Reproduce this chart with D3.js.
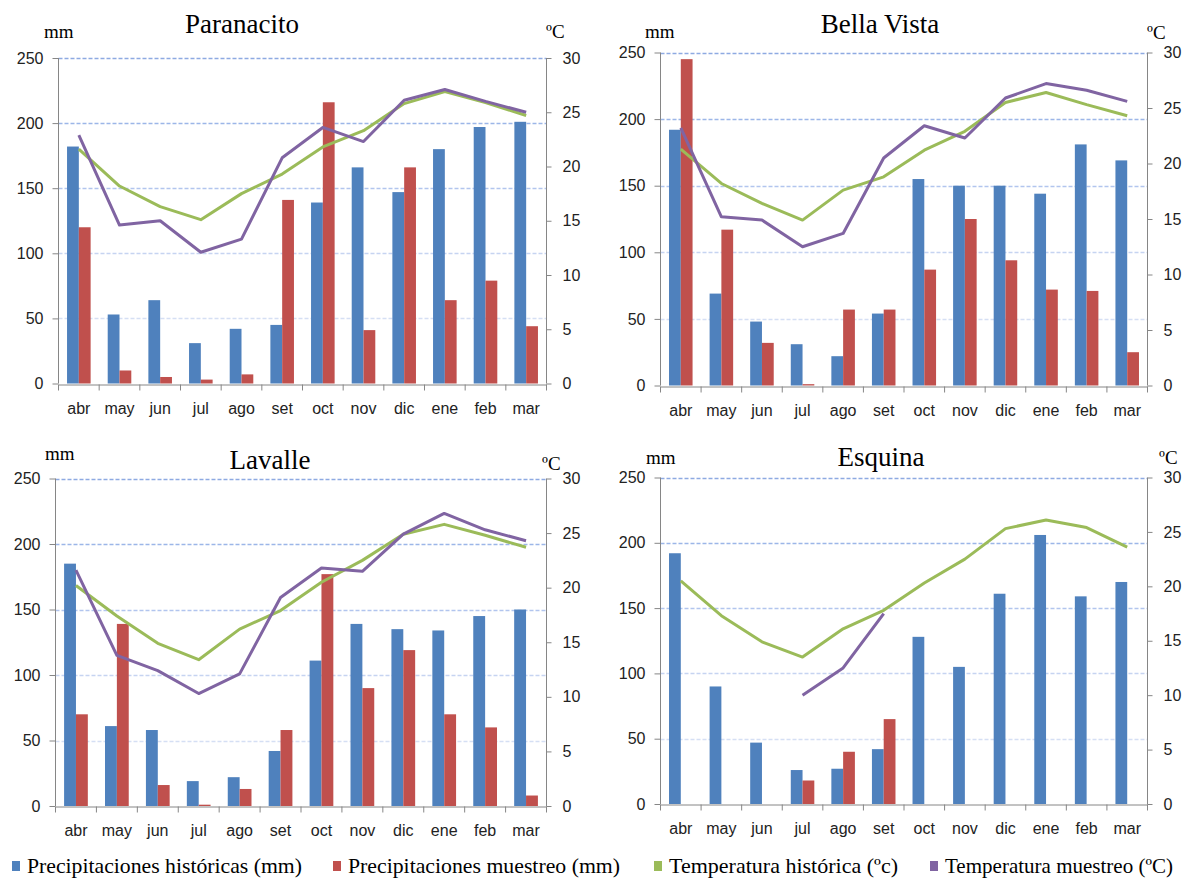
<!DOCTYPE html>
<html>
<head>
<meta charset="utf-8">
<script src="https://cdn.jsdelivr.net/npm/d3@7"></script>
<style>
  html, body { margin: 0; padding: 0; background: #fff; }
  svg { display: block; }
  .tick-label { font-family: 'Liberation Sans Narrow', 'Arial Narrow', 'Liberation Sans', sans-serif; font-size: 16px; fill: #222; }
  .serif { font-family: 'Liberation Serif', 'Times New Roman', serif; fill: #000; }
</style>
</head>
<body>
<svg id="chart" width="1184" height="879"></svg>
<script>
// ---------- DATA ----------
const months = ["abr","may","jun","jul","ago","set","oct","nov","dic","ene","feb","mar"];
const stations = ["Paranacito","Bella Vista","Lavalle","Esquina"];
const mmTicks = [0,50,100,150,200,250];
const tempTicks = [0,5,10,15,20,25,30];

const paranacitoPrecipHist     = [182, 53, 64, 31, 42, 45, 139, 166, 147, 180, 197, 201];
const paranacitoPrecipMuestreo = [120, 10, 5, 3, 7, 141, 216, 41, 166, 64, 79, 44];
const paranacitoTempHist       = [21.6, 18.2, 16.3, 15.1, 17.5, 19.3, 21.8, 23.3, 25.8, 26.9, 25.9, 24.7];
const paranacitoTempMuestreo   = [22.9, 14.6, 15.0, 12.1, 13.3, 20.8, 23.6, 22.3, 26.1, 27.1, 26.0, 25.0];

const bellaVistaPrecipHist     = [192, 69, 48, 31, 22, 54, 155, 150, 150, 144, 181, 169];
const bellaVistaPrecipMuestreo = [245, 117, 32, 1, 57, 57, 87, 125, 94, 72, 71, 25];
const bellaVistaTempHist       = [21.3, 18.2, 16.4, 14.9, 17.6, 18.8, 21.2, 22.9, 25.5, 26.4, 25.3, 24.3];
const bellaVistaTempMuestreo   = [23.2, 15.2, 14.9, 12.5, 13.7, 20.5, 23.4, 22.3, 25.9, 27.2, 26.6, 25.6];

const lavallePrecipHist        = [185, 61, 58, 19, 22, 42, 111, 139, 135, 134, 145, 150];
const lavallePrecipMuestreo    = [70, 139, 16, 1, 13, 58, 177, 90, 119, 70, 60, 8];
const lavalleTempHist          = [20.2, 17.4, 14.9, 13.4, 16.2, 17.9, 20.5, 22.5, 24.9, 25.8, 24.8, 23.7];
const lavalleTempMuestreo      = [21.6, 13.8, 12.4, 10.3, 12.1, 19.1, 21.8, 21.5, 24.9, 26.8, 25.3, 24.3];

const esquinaPrecipHist        = [192, 90, 47, 26, 27, 42, 128, 105, 161, 206, 159, 170];
const esquinaPrecipMuestreo    = [null, null, null, 18, 40, 65, null, null, null, null, null, null];
const esquinaTempHist          = [20.5, 17.3, 14.9, 13.5, 16.1, 17.8, 20.3, 22.5, 25.3, 26.1, 25.4, 23.6];
const esquinaTempMuestreo      = [null, null, null, 10.0, 12.5, 17.5, null, null, null, null, null, null];

const legendLabels = ["Precipitaciones históricas (mm)", "Precipitaciones muestreo (mm)",
                      "Temperatura histórica (ºc)", "Temperatura muestreo (ºC)"];

// ---------- STYLE / LAYOUT ----------
const colors = { hist: "#4F81BD", muestreo: "#C0504D", tHist: "#9BBB59", tMuestreo: "#8064A2" };
const gridColors = { 50: "#d5dff4", 100: "#c6d4f1", 150: "#b2c5ee", 200: "#9cb6e8", 250: "#8eaae2" };

const panels = [
  { name: stations[0], ph: paranacitoPrecipHist, pm: paranacitoPrecipMuestreo, th: paranacitoTempHist, tm: paranacitoTempMuestreo,
    left: 58.5, right: 546.5, top: 58, bottom: 383.5, titleX: 242, titleY: 33, mmX: 44, mmY: 37.5, cX: 546, cY: 37.5 },
  { name: stations[1], ph: bellaVistaPrecipHist, pm: bellaVistaPrecipMuestreo, th: bellaVistaTempHist, tm: bellaVistaTempMuestreo,
    left: 660.5, right: 1147.5, top: 52.5, bottom: 385.5, titleX: 880, titleY: 33, mmX: 645, mmY: 38, cX: 1147, cY: 39 },
  { name: stations[2], ph: lavallePrecipHist, pm: lavallePrecipMuestreo, th: lavalleTempHist, tm: lavalleTempMuestreo,
    left: 55.5, right: 546.5, top: 478.5, bottom: 806, titleX: 270, titleY: 469, mmX: 45, mmY: 460, cX: 542, cY: 470 },
  { name: stations[3], ph: esquinaPrecipHist, pm: esquinaPrecipMuestreo, th: esquinaTempHist, tm: esquinaTempMuestreo,
    left: 660.5, right: 1147.5, top: 477.5, bottom: 804, titleX: 881, titleY: 466, mmX: 646, mmY: 464, cX: 1159, cY: 464 }
];

const svg = d3.select("#chart");
const axisColor = "#868686";

panels.forEach(p => {
  const g = svg.append("g");
  const x = d3.scaleBand().domain(months).range([p.left, p.right]).paddingInner(0).paddingOuter(0);
  const yL = d3.scaleLinear().domain([0, 250]).range([p.bottom, p.top]);
  const yR = d3.scaleLinear().domain([0, 30]).range([p.bottom, p.top]);
  const bw = x.bandwidth() * 0.29;

  // gridlines
  g.selectAll(".grid").data(mmTicks.filter(d => d > 0)).enter().append("line")
    .attr("x1", p.left).attr("x2", p.right)
    .attr("y1", d => Math.round(yL(d)) + 0.5).attr("y2", d => Math.round(yL(d)) + 0.5)
    .attr("stroke", d => gridColors[d]).attr("stroke-width", 1.3).attr("stroke-dasharray", "4,2");

  // bars
  g.selectAll(".bh").data(p.ph.map((v, i) => ({ m: months[i], v }))).enter().append("rect")
    .attr("x", d => x(d.m) + x.bandwidth() / 2 - bw)
    .attr("width", bw)
    .attr("y", d => yL(d.v)).attr("height", d => yL(0) - yL(d.v))
    .attr("fill", colors.hist);
  g.selectAll(".bm").data(p.pm.map((v, i) => ({ m: months[i], v })).filter(d => d.v !== null)).enter().append("rect")
    .attr("x", d => x(d.m) + x.bandwidth() / 2)
    .attr("width", bw)
    .attr("y", d => yL(d.v)).attr("height", d => yL(0) - yL(d.v))
    .attr("fill", colors.muestreo);

  // axes
  const leftAxis = d3.axisLeft(yL).tickValues(mmTicks).tickSize(6).tickPadding(9);
  const gl = g.append("g").attr("transform", `translate(${p.left},0)`).call(leftAxis);
  const rightAxis = d3.axisRight(yR).tickValues(tempTicks).tickSize(5).tickPadding(11);
  const gr = g.append("g").attr("transform", `translate(${p.right},0)`).call(rightAxis);
  [gl, gr].forEach(a => {
    a.selectAll(".tick line").attr("stroke", axisColor);
    a.selectAll(".tick text").attr("class", "tick-label").attr("fill", "#222");
  });
  gl.select(".domain").remove(); gr.select(".domain").remove();
  g.append("line").attr("x1", p.left).attr("x2", p.left).attr("y1", p.top).attr("y2", p.bottom).attr("stroke", axisColor);
  g.append("line").attr("x1", p.right).attr("x2", p.right).attr("y1", p.top).attr("y2", p.bottom).attr("stroke", axisColor);

  // bottom axis
  const bAxis = d3.axisBottom(x).tickSize(0).tickPadding(18);
  const gb = g.append("g").attr("transform", `translate(0,${Math.round(p.bottom) + 0.5})`).call(bAxis);
  gb.select(".domain").attr("stroke", axisColor);
  gb.selectAll(".tick text").attr("class", "tick-label").attr("fill", "#222");
  const bounds = months.map(m => x(m)).concat([p.right]);
  g.selectAll(".xt").data(bounds).enter().append("line")
    .attr("x1", d => d).attr("x2", d => d)
    .attr("y1", Math.round(p.bottom) + 0.5).attr("y2", Math.round(p.bottom) + 6.5)
    .attr("stroke", axisColor);

  // temperature lines
  const line = d3.line()
    .defined(d => d.v !== null)
    .x(d => x(d.m) + x.bandwidth() / 2)
    .y(d => yR(d.v));
  g.append("path").datum(p.th.map((v, i) => ({ m: months[i], v })))
    .attr("d", line).attr("fill", "none").attr("stroke", colors.tHist).attr("stroke-width", 3)
    .attr("stroke-linejoin", "round");
  g.append("path").datum(p.tm.map((v, i) => ({ m: months[i], v })))
    .attr("d", line).attr("fill", "none").attr("stroke", colors.tMuestreo).attr("stroke-width", 3)
    .attr("stroke-linejoin", "round");

  // titles
  g.append("text").attr("class", "serif").attr("x", p.titleX).attr("y", p.titleY)
    .attr("text-anchor", "middle").attr("font-size", 27).text(p.name);
  g.append("text").attr("class", "serif").attr("x", p.mmX).attr("y", p.mmY)
    .attr("font-size", 19).text("mm");
  g.append("text").attr("class", "serif").attr("x", p.cX).attr("y", p.cY)
    .attr("font-size", 19).text("ºC");
});

// legend
const legendColors = [colors.hist, colors.muestreo, colors.tHist, colors.tMuestreo];
const legendPos = [
  { sq: 12, tx: 27, w: 275 },
  { sq: 333, tx: 348, w: 272 },
  { sq: 654, tx: 669, w: 229 },
  { sq: 930, tx: 945, w: 228 }
];
const lg = svg.append("g");
legendLabels.forEach((lab, i) => {
  lg.append("rect").attr("x", legendPos[i].sq).attr("y", 861).attr("width", 8).attr("height", 10)
    .attr("fill", legendColors[i]);
  lg.append("text").attr("class", "serif").attr("x", legendPos[i].tx).attr("y", 873)
    .attr("font-size", 22).attr("textLength", legendPos[i].w).attr("lengthAdjust", "spacingAndGlyphs")
    .text(lab);
});
</script>
</body>
</html>
